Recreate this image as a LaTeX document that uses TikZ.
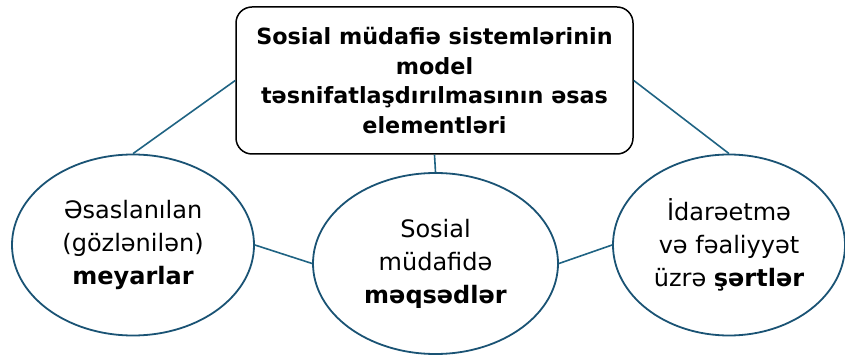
\documentclass[tikz,border=0pt]{standalone}
\usepackage{fontspec}
\setmainfont{DejaVu Sans}
\usetikzlibrary{shapes.geometric}
\definecolor{linkc}{HTML}{1F6383}
\definecolor{ellc}{HTML}{1A5374}
\begin{document}
\begin{tikzpicture}[x=1pt,y=1pt,
  topbox/.style={draw=black,line width=1.5pt,rounded corners=16pt,minimum width=397pt,minimum height=147pt,align=center,font=\fontsize{22.3}{29.5}\selectfont\bfseries,inner sep=0pt},
  oval/.style={ellipse,draw=ellc,line width=1.8pt,align=center,inner sep=0pt,font=\fontsize{24}{33}\selectfont},
  link/.style={draw=linkc,line width=1.6pt}]
\useasboundingbox (0,0) rectangle (845,356);
\node[topbox] (top) at (434.5,275.5) {Sosial müdafiə sistemlərinin\\model\\təsnifatlaşdırılmasının əsas\\elementləri};
\node[oval,minimum width=242pt,minimum height=181pt] (left) at (133,111) {Əsaslanılan\\(gözlənilən)\\\textbf{meyarlar}};
\node[oval,minimum width=245pt,minimum height=181pt] (mid) at (435.5,92.5) {Sosial\\müdafidə\\\textbf{məqsədlər}};
\node[oval,minimum width=232pt,minimum height=181pt] (right) at (729,111) {İdarəetmə\\və fəaliyyət\\üzrə \textbf{şərtlər}};
\draw[link] (left.north) -- (top.west);
\draw[link] (right.north) -- (top.east);
\draw[link] (top.south) -- (mid.north);
\draw[link] (left.east) -- (mid.west);
\draw[link] (mid.east) -- (right.west);
\end{tikzpicture}
\end{document}
